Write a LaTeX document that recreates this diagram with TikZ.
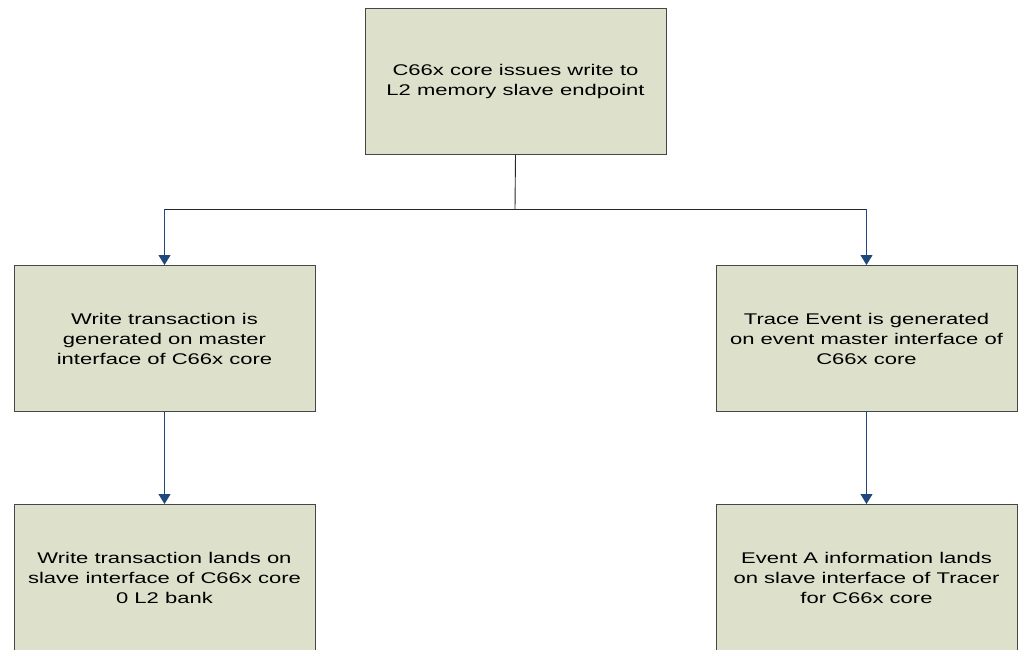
\documentclass[tikz,border=0pt]{standalone}
\usepackage{fontspec}
\setmainfont[FakeStretch=1.42]{Liberation Sans}
\usetikzlibrary{arrows.meta}
\definecolor{boxfill}{RGB}{221,225,203}
\definecolor{boxline}{RGB}{70,70,70}
\definecolor{arrblue}{RGB}{31,73,125}
\begin{document}
\begin{tikzpicture}[x=1pt,y=-1pt,
  flowbox/.style={draw=boxline,fill=boxfill,line width=1pt,minimum width=301pt,minimum height=146pt,
    inner sep=0pt,align=center,anchor=north west,font=\fontsize{15.5}{20}\selectfont},
  trunk/.style={draw=black!85,line width=0.9pt},
  arr/.style={draw=arrblue,line width=1pt,-{Triangle[length=10pt,width=12pt]},fill=arrblue}]
\useasboundingbox (0,0) rectangle (1021,649);
\node[flowbox] (top) at (364.5,7.5) {C66x core issues write to\\L2 memory slave endpoint};
\node[flowbox] (ml) at (13.5,265) {Write transaction is\\generated on master\\interface of C66x core};
\node[flowbox] (mr) at (715.5,265) {Trace Event is generated\\on event master interface of\\C66x core};
\node[flowbox] (bl) at (13.5,504) {Write transaction lands on\\slave interface of C66x core\\0 L2 bank};
\node[flowbox] (br) at (715.5,504) {Event A information lands\\on slave interface of Tracer\\for C66x core};
\coordinate (j) at (515,209);
\coordinate (jl) at (ml.north |- j);
\coordinate (jr) at (mr.north |- j);
\draw[trunk] (top.south) -- (j);
\draw[trunk] (jl) -- (jr);
\draw[arr] (jl) -- (ml.north);
\draw[arr] (jr) -- (mr.north);
\draw[arr] (ml.south) -- (bl.north);
\draw[arr] (mr.south) -- (br.north);
\end{tikzpicture}
\end{document}
